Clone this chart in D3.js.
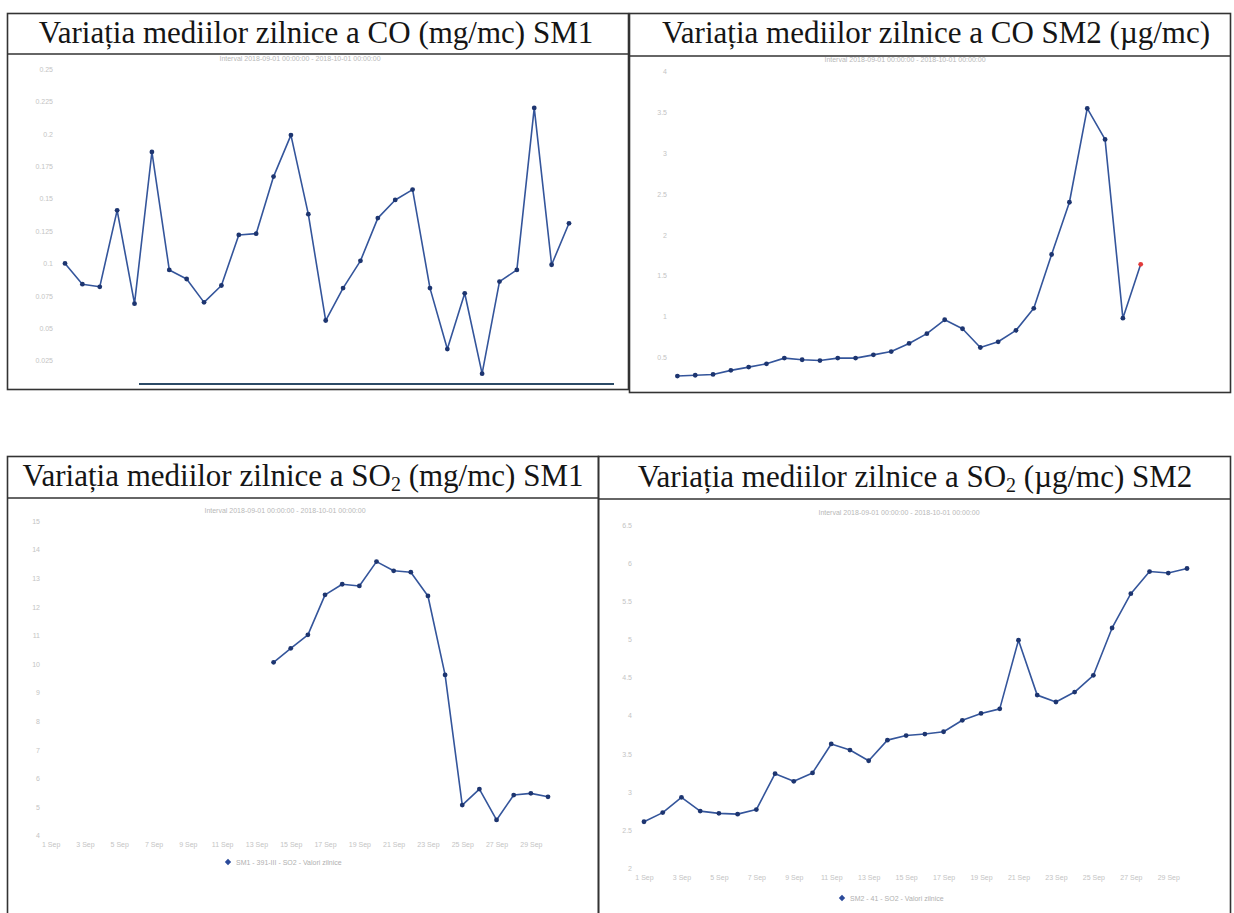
<!DOCTYPE html>
<html>
<head>
<meta charset="utf-8">
<script src="https://cdn.jsdelivr.net/npm/d3@7"></script>
<style>
  body { margin: 0; background: #fff; }
  svg { display: block; }
</style>
</head>
<body>
<div id="grafic"></div>
<script>
// zilele lunii (septembrie 2018) si mediile zilnice citite din grafice
var coSM1Days = [1,2,3,4,5,6,7,8,9,10,11,12,13,14,15,16,17,18,19,20,21,22,23,24,25,26,27,28,29,30];
var coSM1Values = [0.100,0.084,0.082,0.141,0.069,0.186,0.095,0.088,0.070,0.083,0.122,0.123,0.167,0.199,0.138,
                   0.056,0.081,0.102,0.135,0.149,0.157,0.081,0.034,0.077,0.015,0.086,0.095,0.220,0.099,0.131];

var coSM2Days = [1,2,3,4,5,6,7,8,9,10,11,12,13,14,15,16,17,18,19,20,21,22,23,24,25,26,27];
var coSM2Values = [0.27,0.28,0.29,0.34,0.38,0.42,0.49,0.47,0.46,0.49,0.49,0.53,0.57,0.67,0.79,0.96,0.85,
                   0.62,0.69,0.83,1.10,1.76,2.40,3.55,3.17,0.98,1.64];

var so2SM1Days = [14,15,16,17,18,19,20,21,22,23,24,25,26,27,28,29,30];
var so2SM1Values = [10.06,10.55,11.02,12.42,12.79,12.73,13.58,13.26,13.21,12.38,9.62,5.07,5.63,4.55,5.42,5.48,5.36];

var so2SM2Days = [1,2,3,4,5,6,7,8,9,10,11,12,13,14,15,16,17,18,19,20,21,22,23,24,25,26,27,28,29,30];
var so2SM2Values = [2.61,2.73,2.93,2.75,2.72,2.71,2.77,3.24,3.14,3.25,3.63,3.55,3.41,3.68,3.74,3.76,3.79,
                    3.94,4.03,4.09,4.99,4.27,4.18,4.31,4.53,5.15,5.60,5.89,5.87,5.93];

// etichete axe
var coSM1Ticks = [0.025,0.05,0.075,0.1,0.125,0.15,0.175,0.2,0.225,0.25];
var coSM2Ticks = [0.5,1,1.5,2,2.5,3,3.5,4];
var so2SM1Ticks = [4,5,6,7,8,9,10,11,12,13,14,15];
var so2SM2Ticks = [2,2.5,3,3.5,4,4.5,5,5.5,6,6.5];
var dayTicks = [1,3,5,7,9,11,13,15,17,19,21,23,25,27,29];

var intervalText = "Interval 2018-09-01 00:00:00 - 2018-10-01 00:00:00";
var legendSM1 = "SM1 - 391-III - SO2 - Valori zilnice";
var legendSM2 = "SM2 - 41 - SO2 - Valori zilnice";

var lineColor = "#34559b",
    dotColor = "#1d3570",
    faint = "#c4c4c4";

var svg = d3.select("#grafic")
  .append("svg")
    .attr("width", 1234)
    .attr("height", 913);

// un panou = chenar, titlu, subtitlu, axe si linie
function drawPanel(p) {
  var g = svg.append("g");

  // chenarul
  g.append("rect")
    .attr("x", p.box[0]).attr("y", p.box[1])
    .attr("width", p.box[2]).attr("height", p.box[3])
    .attr("fill", "none")
    .attr("stroke", "#333")
    .attr("stroke-width", 1.6);
  g.append("line")
    .attr("x1", p.box[0]).attr("x2", p.box[0] + p.box[2])
    .attr("y1", p.sepY).attr("y2", p.sepY)
    .attr("stroke", "#333")
    .attr("stroke-width", 1.6);

  // titlul (cu indice pentru SO2)
  var t = g.append("text")
    .attr("x", p.titleX).attr("y", p.titleY)
    .attr("text-anchor", "middle")
    .style("font-family", "'Liberation Serif', 'Times New Roman', serif")
    .style("font-size", "31px")
    .style("fill", "#151515");
  var shift = 0;
  p.title.forEach(function(part) {
    var span = t.append("tspan").text(part.text);
    if (part.sub) {
      span.attr("dy", 5).style("font-size", "20px");
      shift = 5;
    } else if (shift) {
      span.attr("dy", -shift);
      shift = 0;
    }
  });

  // subtitlul (interval)
  g.append("text")
    .attr("x", p.subX).attr("y", p.subY)
    .attr("text-anchor", "middle")
    .style("font-family", "'Liberation Sans', sans-serif")
    .style("font-size", "7px")
    .style("fill", "#b8b8b8")
    .text(intervalText);

  var x = d3.scaleLinear().domain(p.xDomain).range(p.xRange);
  var y = d3.scaleLinear().domain(p.yDomain).range(p.yRange);

  // axa Y (doar etichete, foarte sterse)
  var ay = g.append("g")
    .attr("transform", "translate(" + p.yAxisX + ",0)")
    .call(d3.axisLeft(y).tickValues(p.yTicks).tickSize(0).tickPadding(0).tickFormat(function(d) { return String(d); }));
  ay.select(".domain").remove();
  ay.selectAll("text")
    .style("font-family", "'Liberation Sans', sans-serif")
    .style("font-size", "7px")
    .style("fill", faint);

  // axa X
  if (p.xAxisY) {
    var ax = g.append("g")
      .attr("transform", "translate(0," + p.xAxisY + ")")
      .call(d3.axisBottom(x).tickValues(dayTicks).tickSize(0).tickPadding(0).tickFormat(function(d) { return d + " Sep"; }));
    ax.select(".domain").remove();
    ax.selectAll("text")
      .style("font-family", "'Liberation Sans', sans-serif")
      .style("font-size", "7px")
      .style("fill", faint);
  }

  var pts = d3.zip(p.days, p.values);

  g.append("path")
    .datum(pts)
    .attr("fill", "none")
    .attr("stroke", lineColor)
    .attr("stroke-width", 1.6)
    .attr("stroke-linejoin", "round")
    .attr("d", d3.line()
      .x(function(d) { return x(d[0]); })
      .y(function(d) { return y(d[1]); }));

  g.append("g")
    .selectAll("circle")
    .data(pts)
    .enter()
    .append("circle")
      .attr("cx", function(d) { return x(d[0]); })
      .attr("cy", function(d) { return y(d[1]); })
      .attr("r", 2.4)
      .style("fill", function(d, i) { return (p.redLast && i == pts.length - 1) ? "#e23a3a" : dotColor; });

  // legenda
  if (p.legend) {
    g.append("path")
      .attr("transform", "translate(" + p.legendX + "," + p.legendY + ") rotate(45)")
      .attr("d", d3.symbol().type(d3.symbolSquare).size(20))
      .style("fill", "#2a4a9a");
    g.append("text")
      .attr("x", p.legendX + 8).attr("y", p.legendY + 2.5)
      .style("font-family", "'Liberation Sans', sans-serif")
      .style("font-size", "7px")
      .style("fill", "#b0b0b0")
      .text(p.legend);
  }
  return g;
}

// CO SM1
var p1 = drawPanel({
  box: [7.5, 13.5, 621, 376], sepY: 54,
  title: [{text: "Variația mediilor zilnice a CO (mg/mc) SM1"}],
  titleX: 316, titleY: 43,
  subX: 300, subY: 61,
  xDomain: [1, 30], xRange: [65, 569],
  yDomain: [0.025, 0.25], yRange: [360.7, 69],
  yTicks: coSM1Ticks, yAxisX: 53,
  days: coSM1Days, values: coSM1Values
});
// linia de jos (marginea graficului original)
p1.append("line")
  .attr("x1", 139).attr("x2", 614)
  .attr("y1", 384).attr("y2", 384)
  .attr("stroke", "#2b4a66")
  .attr("stroke-width", 2);

// CO SM2
drawPanel({
  box: [629.5, 13.5, 601, 379], sepY: 56,
  title: [{text: "Variația mediilor zilnice a CO SM2 (µg/mc)"}],
  titleX: 936, titleY: 43,
  subX: 905, subY: 62,
  xDomain: [1, 27], xRange: [677.4, 1140.7],
  yDomain: [0.5, 4], yRange: [357.3, 71.7],
  yTicks: coSM2Ticks, yAxisX: 667,
  days: coSM2Days, values: coSM2Values,
  redLast: true
});

// SO2 SM1
drawPanel({
  box: [7.5, 456.5, 591, 470], sepY: 498,
  title: [{text: "Variația mediilor zilnice a SO"}, {text: "2", sub: true}, {text: " (mg/mc) SM1"}],
  titleX: 303, titleY: 486,
  subX: 285, subY: 513,
  xDomain: [14, 30], xRange: [273.6, 548],
  yDomain: [4, 15], yRange: [835.7, 521],
  yTicks: so2SM1Ticks, yAxisX: 40,
  xAxisY: 842,
  days: so2SM1Days, values: so2SM1Values,
  legend: legendSM1, legendX: 228, legendY: 862
});

// SO2 SM2
drawPanel({
  box: [598.5, 456.5, 632, 470], sepY: 499,
  title: [{text: "Variația mediilor zilnice a SO"}, {text: "2", sub: true}, {text: " (µg/mc) SM2"}],
  titleX: 915, titleY: 487,
  subX: 899, subY: 515,
  xDomain: [1, 30], xRange: [644, 1187],
  yDomain: [2, 6.5], yRange: [868.3, 525],
  yTicks: so2SM2Ticks, yAxisX: 632,
  xAxisY: 875,
  days: so2SM2Days, values: so2SM2Values,
  legend: legendSM2, legendX: 842, legendY: 898
});
</script>
</body>
</html>
